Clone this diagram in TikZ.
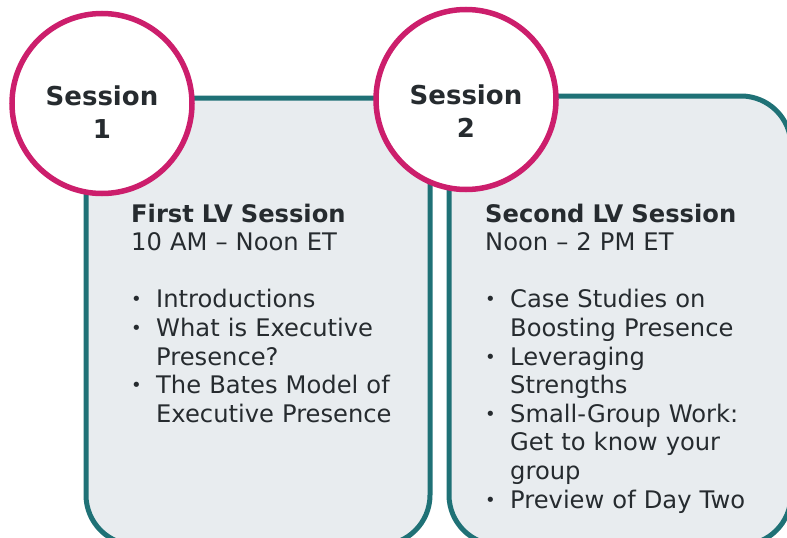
\documentclass[tikz,border=0pt]{standalone}
\usepackage{fontspec}
\setmainfont{DejaVu Sans}
\definecolor{teal1}{HTML}{1F7176}
\definecolor{magenta1}{HTML}{CC1E6C}
\definecolor{panelgray}{HTML}{E8ECEF}
\definecolor{ink}{HTML}{262B2F}
\newcommand{\bul}{\makebox[25pt][l]{\raisebox{2pt}{\fontsize{18}{18}\selectfont•}}}
\newcommand{\ind}{\hspace*{25pt}}
\tikzset{
  panel/.style={draw=teal1,line width=5pt,fill=panelgray,rounded corners=50pt},
  session/.style={circle,draw=magenta1,line width=5.5pt,fill=white,minimum size=180pt,inner sep=0pt},
  sessionlabel/.style={font=\fontsize{26}{33}\selectfont\bfseries,text=ink,align=center,inner sep=0pt},
  paneltext/.style={font=\fontsize{24.2}{28.6}\selectfont,text=ink,align=left,text width=300pt,inner sep=0pt,anchor=base west}
}
\begin{document}
\begin{tikzpicture}[x=1pt,y=-1pt]
  \useasboundingbox (0,0) rectangle (787,538);
  \clip (0,0) rectangle (787,538);

  % panels
  \draw[panel] (86,98) rectangle (430,545);
  \draw[panel] (449,96) rectangle (791,545);

  % session circles
  \node[session] (s1) at (102,103.5) {};
  \node[session] (s2) at (466,99.5) {};
  \node[sessionlabel] (s1l) at (102,112.5) {Session\\1};
  \node[sessionlabel] (s2l) at (466,111) {Session\\2};

  % texts
  \node[paneltext] (t1) at (131,222) {\textbf{First LV Session}\\
    10 AM – Noon ET\\[28.6pt]
    \bul Introductions\\
    \bul What is Executive\\
    \ind Presence?\\
    \bul The Bates Model of\\
    \ind Executive Presence};
  \node[paneltext] (t2) at (485,222) {\textbf{Second LV Session}\\
    Noon – 2 PM ET\\[28.6pt]
    \bul Case Studies on\\
    \ind Boosting Presence\\
    \bul Leveraging\\
    \ind Strengths\\
    \bul Small-Group Work:\\
    \ind Get to know your\\
    \ind group\\
    \bul Preview of Day Two};
\end{tikzpicture}
\end{document}
